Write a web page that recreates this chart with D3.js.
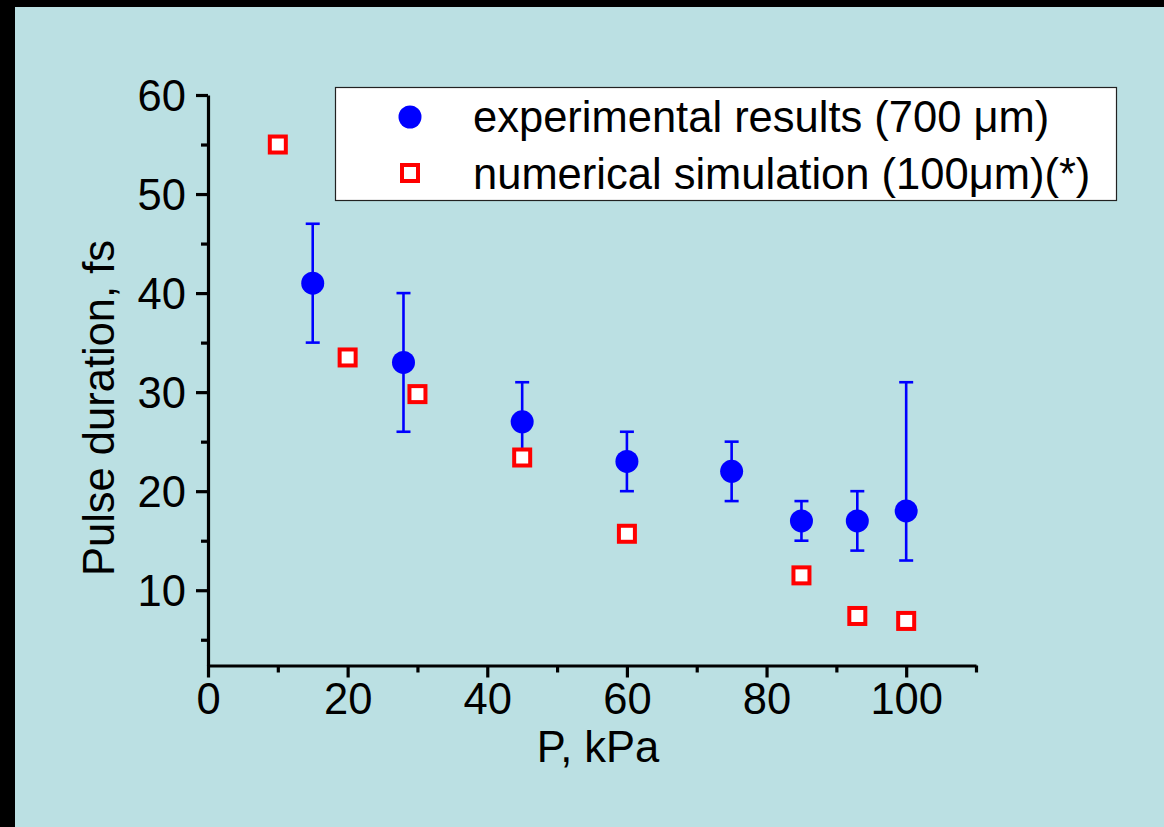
<!DOCTYPE html>
<html>
<head>
<meta charset="utf-8">
<script src="https://cdn.jsdelivr.net/npm/d3@7"></script>
<style>
  html, body { margin: 0; padding: 0; background: #000; }
  svg { display: block; }
  text { font-family: "Liberation Sans", Arial, sans-serif; fill: #000; }
</style>
</head>
<body>
<svg id="chart" width="1164" height="827"></svg>
<script>
// Experimental pulse durations with error ranges
const expP     = [15, 28, 45, 60, 75, 85, 93, 100];
const expDur   = [41, 33, 27, 23, 22, 17, 17, 18];
const expLow   = [35, 26, 23, 20, 19, 15, 14, 13];
const expHigh  = [47, 40, 31, 26, 25, 19, 20, 31];

// Numerical simulation results
const simP     = [10, 20, 30, 45, 60, 85, 93, 100];
const simDur   = [55, 33.5, 29.8, 23.4, 15.7, 11.5, 7.4, 6.9];

// Axis ticks
const xMajor = [0, 20, 40, 60, 80, 100];
const xMinor = [10, 30, 50, 70, 90, 110];
const yMajor = [10, 20, 30, 40, 50, 60];
const yMinor = [5, 15, 25, 35, 45, 55];

const legendLabels = ["experimental results (700 \u03bcm)", "numerical simulation (100\u03bcm)(*)"];

const svg = d3.select("#chart");
const W = 1164, H = 827;

// light blue panel with the dark frame on top and left
svg.append("rect").attr("x", 0).attr("y", 0).attr("width", W).attr("height", H).attr("fill", "#000");
svg.append("rect").attr("x", 15).attr("y", 7).attr("width", W - 15).attr("height", H - 7).attr("fill", "#bbe0e3");

const x = d3.scaleLinear().domain([0, 110]).range([208, 976]);
const y = d3.scaleLinear().domain([2.4, 60]).range([665.5, 95]);

const font = 43.5;

// X axis
const xAxisG = svg.append("g").attr("transform", `translate(0,${y(2.4)})`);
xAxisG.call(d3.axisBottom(x).tickValues(xMajor).tickSize(12).tickSizeOuter(0).tickPadding(6)
  .tickFormat(d3.format("d")));
xAxisG.append("g").call(d3.axisBottom(x).tickValues(xMinor).tickSize(7).tickSizeOuter(0).tickFormat(""))
  .select(".domain").remove();

// Y axis
const yAxisG = svg.append("g").attr("transform", `translate(${x(0)},0)`);
yAxisG.call(d3.axisLeft(y).tickValues(yMajor).tickSize(12).tickSizeOuter(0).tickPadding(10)
  .tickFormat(d3.format("d")));
yAxisG.append("g").call(d3.axisLeft(y).tickValues(yMinor).tickSize(7).tickSizeOuter(0).tickFormat(""))
  .select(".domain").remove();

[xAxisG, yAxisG].forEach(g => {
  g.selectAll(".domain").attr("stroke", "#000").attr("stroke-width", 3.2);
  g.selectAll(".tick line").attr("stroke", "#000").attr("stroke-width", 3.2);
  g.selectAll(".tick text").attr("font-size", font)
    .attr("font-family", "'Liberation Sans', Arial, sans-serif").attr("fill", "#000");
});
xAxisG.selectAll(".tick text").attr("dy", "0.71em");
yAxisG.selectAll(".tick text").attr("dy", "0.35em");

// Axis titles
svg.append("text").attr("x", 598).attr("y", 762).attr("text-anchor", "middle")
  .attr("font-size", font).text("P, kPa");
svg.append("text").attr("transform", `translate(114,408) rotate(-90)`).attr("text-anchor", "middle")
  .attr("font-size", font).text("Pulse duration, fs");

// Error bars for experimental data
const blue = "#0000ff";
const red = "#ff0000";
const errG = svg.append("g");
expP.forEach((p, i) => {
  const cx = x(p);
  errG.append("line").attr("x1", cx).attr("x2", cx).attr("y1", y(expLow[i])).attr("y2", y(expHigh[i]))
    .attr("stroke", blue).attr("stroke-width", 2.6);
  [expLow[i], expHigh[i]].forEach(v => {
    errG.append("line").attr("x1", cx - 7).attr("x2", cx + 7).attr("y1", y(v)).attr("y2", y(v))
      .attr("stroke", blue).attr("stroke-width", 2.6);
  });
});

// Simulation squares
svg.append("g").selectAll("rect").data(simP).join("rect")
  .attr("x", (d) => x(d) - 8).attr("y", (d, i) => y(simDur[i]) - 8)
  .attr("width", 16).attr("height", 16)
  .attr("fill", "#fff").attr("stroke", red).attr("stroke-width", 4);

// Experimental circles
svg.append("g").selectAll("circle").data(expP).join("circle")
  .attr("cx", (d) => x(d)).attr("cy", (d, i) => y(expDur[i])).attr("r", 11.5)
  .attr("fill", blue);

// Legend
const lg = svg.append("g");
lg.append("rect").attr("x", 335.5).attr("y", 87.5).attr("width", 781).attr("height", 113)
  .attr("fill", "#fff").attr("stroke", "#222").attr("stroke-width", 1.2);
lg.append("circle").attr("cx", 410).attr("cy", 117).attr("r", 11.5).attr("fill", blue);
lg.append("rect").attr("x", 402).attr("y", 165).attr("width", 16).attr("height", 16)
  .attr("fill", "#fff").attr("stroke", red).attr("stroke-width", 4);
lg.selectAll("text").data(legendLabels).join("text")
  .attr("x", 473).attr("y", (d, i) => 132 + i * 57)
  .attr("font-size", font).text(d => d);
</script>
</body>
</html>
